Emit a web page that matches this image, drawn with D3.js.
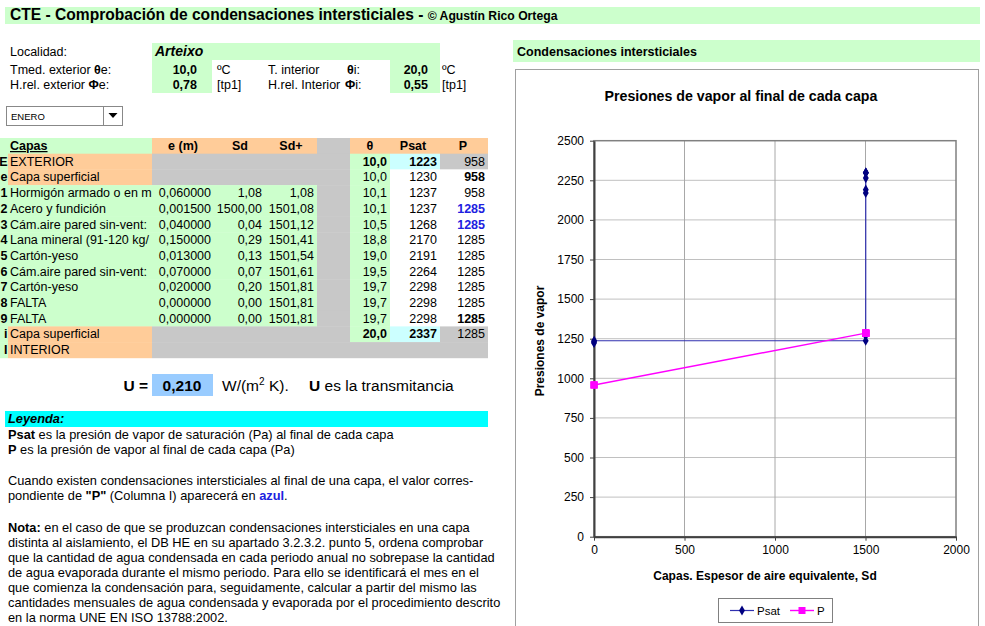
<!DOCTYPE html>
<html><head><meta charset="utf-8">
<script src="https://cdn.jsdelivr.net/npm/d3@7"></script>
<style>
body{margin:0;background:#fff;}
svg{display:block;font-family:"Liberation Sans",Arial,Helvetica,sans-serif;}
</style></head><body>
<svg id="c" width="985" height="626"></svg>
<script>
// ---------- DATA ----------
const titleMain = "CTE - Comprobación de condensaciones intersticiales - ";
const titleCopy = "© Agustín Rico Ortega";
const localidad = "Arteixo";
const mes = "ENERO";
const tExt = 10.0, hrExt = 0.78, tInt = 20.0, hrInt = 0.55;
const layerIds = ["E","e","1","2","3","4","5","6","7","8","9","i","I"];
const layerNames = ["EXTERIOR","Capa superficial","Hormigón armado o en m","Acero y fundición",
  "Cám.aire pared sin-vent:","Lana mineral (91-120 kg/","Cartón-yeso","Cám.aire pared sin-vent:",
  "Cartón-yeso","FALTA","FALTA","Capa superficial","INTERIOR"];
// layers 1..9
const thickness = [0.060000,0.001500,0.040000,0.150000,0.013000,0.070000,0.020000,0.000000,0.000000];
const sd = [1.08,1500.00,0.04,0.29,0.13,0.07,0.20,0.00,0.00];
const sdPlus = [1.08,1501.08,1501.12,1501.41,1501.54,1501.61,1501.81,1501.81,1501.81];
// rows E..i
const theta = [10.0,10.0,10.1,10.1,10.5,18.8,19.0,19.5,19.7,19.7,19.7,20.0];
const psat = [1223,1230,1237,1237,1268,2170,2191,2264,2298,2298,2298,2337];
const pVap = [958,958,958,1285,1285,1285,1285,1285,1285,1285,1285,1285];
const uValue = 0.210;
// chart
const chartX = [0,0].concat(sdPlus);           // rows E..9
const chartPsat = psat.slice(0,11);
const chartP = pVap.slice(0,11);
const xTicks = [0,500,1000,1500,2000];
const yTicks = [0,250,500,750,1000,1250,1500,1750,2000,2250,2500];

// ---------- STYLE ----------
const GREEN="#ccffcc", ORANGE="#ffcc99", GRAY="#c8c8c8", LCYAN="#ccffff", UBLUE="#99ccff", CYAN="#00ffff";
const FS = 12.5;
const fmt = (v,d)=>v.toFixed(d).replace(".",",");
const svg = d3.select("#c");

function text(x,y,parts,o={}){
  const t = svg.append("text").attr("x",x).attr("y",y).attr("font-size",o.size||FS)
    .attr("fill",o.fill||"#000").attr("text-anchor",o.anchor||"start");
  if(o.weight) t.attr("font-weight",o.weight);
  if(o.style) t.attr("font-style",o.style);
  (Array.isArray(parts)?parts:[[parts]]).forEach(p=>{
    const s=t.append("tspan").text(p[0]);
    if(p[1]) Object.entries(p[1]).forEach(([k,v])=>s.attr(k,v));
  });
  return t;
}
function rect(x,y,w,h,fill,stroke){
  const r=svg.append("rect").attr("x",x).attr("y",y).attr("width",w).attr("height",h).attr("fill",fill);
  if(stroke) r.attr("stroke",stroke);
  return r;
}

// ---------- TITLE ----------
rect(5,7,975,17,GREEN);
text(10,20,[[titleMain,{"font-size":15.6}],[titleCopy,{"font-size":12.2}]],{weight:"bold"});

// ---------- INPUTS ----------
rect(152,43,288,17,GREEN);
rect(152,60,60,33,GREEN);
rect(390,60,50,33,GREEN);
text(10,56,"Localidad:");
text(155,56,localidad,{weight:"bold",style:"italic",size:14});
text(10,74,[["Tmed. exterior "],["θ",{"font-weight":"bold"}],["e:"]]);
text(10,89,[["H.rel. exterior "],["Φ",{"font-weight":"bold"}],["e:"]]);
text(197,74,fmt(tExt,1),{weight:"bold",anchor:"end"});
text(197,89,fmt(hrExt,2),{weight:"bold",anchor:"end"});
text(217,74,"ºC"); text(217,89,"[tp1]");
text(268,74,"T. interior"); text(268,89,"H.rel. Interior");
text(347,74,[["θ",{"font-weight":"bold"}],["i:"]]);
text(345,89,[["Φ",{"font-weight":"bold"}],["i:"]]);
text(428,74,fmt(tInt,1),{weight:"bold",anchor:"end"});
text(428,89,fmt(hrInt,2),{weight:"bold",anchor:"end"});
text(442,74,"ºC"); text(442,89,"[tp1]");

// dropdown
rect(6.5,106.5,116,19,"#fff","#888");
rect(103.5,106.5,19,19,"#fff","#888");
svg.append("path").attr("d","M108.5,113 L117.5,113 L113,118 Z").attr("fill","#000");
text(11,120,mes,{size:9.5});

// ---------- TABLE ----------
const cols = {idx:[0,8],capas:[8,152],e:[152,212],sd:[212,263],sdp:[263,317],gap:[317,350],th:[350,390],ps:[390,440],p:[440,488]};
const RH = 15.7, T0 = 138;
const rowTop = k=>T0+k*RH;
function cell(col,k,fill){ const c=cols[col]; rect(c[0],rowTop(k),c[1]-c[0],RH+0.4,fill); }
cell("idx",0,GREEN); cell("capas",0,GREEN);
["e","sd","sdp","th","ps","p"].forEach(c=>cell(c,0,ORANGE));
cell("gap",0,GRAY);
layerIds.forEach((id,i)=>{
  const k=i+1, edge=(i<2||i>10);
  cell("idx",k,GREEN);
  cell("capas",k,edge?ORANGE:GREEN);
  ["e","sd","sdp"].forEach(c=>cell(c,k,edge?GRAY:GREEN));
  cell("gap",k,GRAY);
  if(i===12){ ["th","ps","p"].forEach(c=>cell(c,k,GRAY)); return; }
  cell("th",k,GREEN);
  cell("ps",k,(i===0||i===11)?LCYAN:"#fff");
  cell("p",k,(i===0||i===11)?GRAY:"#fff");
});
const base = k=>rowTop(k)+12;
text(10,base(0),"Capas",{weight:"bold"}).attr("text-decoration","underline");
text(183,base(0),"e (m)",{weight:"bold",anchor:"middle"});
text(240,base(0),"Sd",{weight:"bold",anchor:"middle"});
text(291,base(0),"Sd+",{weight:"bold",anchor:"middle"});
text(370,base(0),"θ",{weight:"bold",anchor:"middle"});
text(413,base(0),"Psat",{weight:"bold",anchor:"middle"});
text(463,base(0),"P",{weight:"bold",anchor:"middle"});
layerIds.forEach((id,i)=>{
  const k=i+1;
  text(7.5,base(k),id,{weight:"bold",anchor:"end"});
  text(10,base(k),layerNames[i]);
  if(i>=2 && i<=10){
    const j=i-2;
    text(211,base(k),fmt(thickness[j],6),{anchor:"end"});
    text(262,base(k),fmt(sd[j],2),{anchor:"end"});
    text(314,base(k),fmt(sdPlus[j],2),{anchor:"end"});
  }
  if(i<=11){
    const b=(i===0||i===11)?"bold":null;
    text(387,base(k),fmt(theta[i],1),{anchor:"end",weight:b});
    text(437,base(k),String(psat[i]),{anchor:"end",weight:b});
    const cond = i>=2 && i<=10 && pVap[i]>=psat[i];
    const pb = cond || i===1 || i===10;
    text(485,base(k),String(pVap[i]),{anchor:"end",weight:pb?"bold":null,fill:cond?"#2020e0":"#000"});
  }
});

// ---------- U ----------
rect(152,374,61,22,UBLUE);
text(148,391,"U =",{weight:"bold",size:15.5,anchor:"end"});
text(182,391,fmt(uValue,3),{weight:"bold",size:15.5,anchor:"middle"});
text(222,391,[["W/(m"],["2",{"font-size":10,"dy":-6}],[" K).",{"dy":6}]],{size:15.5});
text(309,391,[["U",{"font-weight":"bold"}],[" es la transmitancia"]],{size:15.5});

// ---------- LEYENDA ----------
rect(5,411,483,16,CYAN);
text(8,423,"Leyenda:",{weight:"bold",style:"italic",size:12.8});
const B={"font-weight":"bold"};
const notes = [
  [[["Psat",B],[" es la presión de vapor de saturación (Pa) al final de cada capa"]],439],
  [[["P",B],[" es la presión de vapor al final de cada capa (Pa)"]],454],
  [[["Cuando existen condensaciones intersticiales al final de una capa, el valor corres-"]],485],
  [[["pondiente de "],["\"P\"",B],[" (Columna I) aparecerá en "],["azul",{"font-weight":"bold","fill":"#2020e0"}],["."]],500],
  [[["Nota:",B],[" en el caso de que se produzcan condensaciones intersticiales en una capa"]],532],
  [[["distinta al aislamiento, el DB HE en su apartado 3.2.3.2. punto 5, ordena comprobar"]],547],
  [[["que la cantidad de agua condensada en cada periodo anual no sobrepase la cantidad"]],562],
  [[["de agua evaporada durante el mismo periodo. Para ello se identificará el mes en el"]],577],
  [[["que comienza la condensación para, seguidamente, calcular a partir del mismo las"]],592],
  [[["cantidades mensuales de agua condensada y evaporada por el procedimiento descrito"]],607],
  [[["en la norma UNE EN ISO 13788:2002."]],622]
];
notes.forEach(n=>text(8,n[1],n[0],{size:12.8}));

// ---------- CHART ----------
rect(513,40,467,22,GREEN);
text(517,56,"Condensaciones intersticiales",{weight:"bold",size:12.5});
rect(515.5,69.5,463,560,"#fff","#a0a0a0");
text(741,101,"Presiones de vapor al final de cada capa",{weight:"bold",size:14.2,anchor:"middle"});

const x = d3.scaleLinear().domain([0,2000]).range([594,956]);
const y = d3.scaleLinear().domain([0,2500]).range([536.7,140.7]);
const g = svg.append("g");
g.append("g").selectAll("line").data(yTicks.slice(1,-1)).join("line")
  .attr("x1",x(0)).attr("x2",x(2000)).attr("y1",d=>y(d)).attr("y2",d=>y(d))
  .attr("stroke","#c0c0c0").attr("stroke-width",1);
g.append("g").selectAll("line").data(xTicks.slice(1,-1)).join("line")
  .attr("y1",y(0)).attr("y2",y(2500)).attr("x1",d=>x(d)).attr("x2",d=>x(d))
  .attr("stroke","#a8a8a8").attr("stroke-width",1);
g.append("rect").attr("x",x(0)).attr("y",y(2500)).attr("width",x(2000)-x(0)).attr("height",y(0)-y(2500))
  .attr("fill","none").attr("stroke","#808080").attr("stroke-width",1.5);
const yAxis = d3.axisLeft(y).tickValues(yTicks).tickFormat(d3.format("d")).tickSize(4).tickPadding(6).tickSizeOuter(0);
const xAxis = d3.axisBottom(x).tickValues(xTicks).tickFormat(d3.format("d")).tickSize(4).tickPadding(5).tickSizeOuter(0);
const ya = g.append("g").attr("transform",`translate(${x(0)},0)`).call(yAxis);
const xa = g.append("g").attr("transform",`translate(0,${y(0)})`).call(xAxis);
[ya,xa].forEach(a=>{
  a.select(".domain").attr("stroke","#404040").attr("stroke-width",2);
  a.selectAll(".tick line").attr("stroke","#404040");
  a.selectAll(".tick text").attr("font-size",12).attr("font-family","Liberation Sans, Arial, sans-serif").attr("fill","#000");
});
text(765,580,"Capas. Espesor de aire equivalente, Sd",{weight:"bold",size:12,anchor:"middle"});
svg.append("text").attr("transform","translate(544,341) rotate(-90)").attr("text-anchor","middle")
  .attr("font-size",12).attr("font-weight","bold").text("Presiones de vapor");

const PS_LINE="#3030b0", PS_MARK="#000080", P_COL="#ff00ff";
const line = d3.line().x(d=>x(d[0])).y(d=>y(d[1]));
const psPts = chartX.map((v,i)=>[v,chartPsat[i]]);
const pPts = chartX.map((v,i)=>[v,chartP[i]]);
g.append("path").attr("d",line(psPts)).attr("fill","none").attr("stroke",PS_LINE).attr("stroke-width",1.2);
g.append("path").attr("d",line(pPts)).attr("fill","none").attr("stroke",P_COL).attr("stroke-width",1.4);
const diamond = d3.symbol().type(d3.symbolDiamond).size(30);
g.append("g").selectAll("path").data(psPts).join("path").attr("d",diamond)
  .attr("transform",d=>`translate(${x(d[0])},${y(d[1])})`).attr("fill",PS_MARK);
g.append("g").selectAll("rect").data(pPts).join("rect")
  .attr("x",d=>x(d[0])-3.5).attr("y",d=>y(d[1])-3.5).attr("width",7).attr("height",7).attr("fill",P_COL);

rect(718.5,598.5,114,24,"#fff","#808080");
const ly=610.5;
svg.append("line").attr("x1",730).attr("x2",754).attr("y1",ly).attr("y2",ly).attr("stroke",PS_LINE).attr("stroke-width",1.2);
svg.append("path").attr("d",diamond).attr("transform",`translate(742,${ly})`).attr("fill",PS_MARK);
text(757,ly+4,"Psat",{size:11.5});
svg.append("line").attr("x1",790).attr("x2",814).attr("y1",ly).attr("y2",ly).attr("stroke",P_COL).attr("stroke-width",1.4);
rect(798.5,ly-3.5,7,7,P_COL);
text(817,ly+4,"P",{size:11.5});
</script>
</body></html>
